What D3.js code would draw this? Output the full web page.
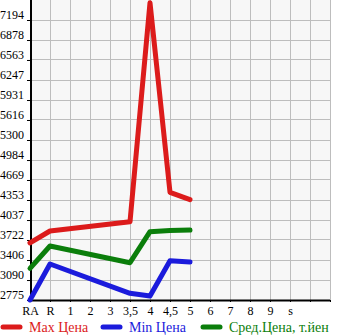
<!DOCTYPE html>
<html><head><meta charset="utf-8">
<script src="https://cdn.jsdelivr.net/npm/d3@7"></script>
<style>body{margin:0;background:#fff}svg{display:block}</style>
</head><body>
<script>
const categories = ["RA","R","1","2","3","3,5","4","4,5","5","6","7","8","9","s"];
const maxPrice = [3675, 3864, null, null, null, 4010, 7465, 4474, 4358, null, null, null, null, null];
const minPrice = [2775, 3343, null, null, null, 2881, 2838, 3395, 3375, null, null, null, null, null];
const avgPrice = [3275, 3627, null, null, null, 3364, 3853, 3870, 3880, null, null, null, null, null];
const yTicks = [2775, 3090, 3406, 3722, 4037, 4353, 4669, 4984, 5300, 5616, 5931, 6247, 6563, 6878, 7194];
const seriesNames = ["Max Цена", "Min Цена", "Сред.Цена, т.йен"];
const seriesColors = ["#dc1b1b", "#1b1bdc", "#0b7e0b"];

const W = 345, H = 335;
const svg = d3.select("body").append("svg").attr("width", W).attr("height", H);
const pLeft = 30, pRight = 330, pTop = 0, pBottom = 300;
const step = (yTicks[yTicks.length-1] - yTicks[0]) / (yTicks.length - 1);
const x = d3.scaleLinear().domain([0, 15]).range([pLeft, pRight]);
const y = d3.scaleLinear().domain([yTicks[0], yTicks[yTicks.length-1] + step]).range([pBottom, pTop]);
const font = "'Liberation Serif', 'DejaVu Serif', serif";

svg.append("rect").attr("x", pLeft).attr("y", pTop).attr("width", pRight-pLeft).attr("height", pBottom-pTop).attr("fill", "#f7f7f7");

// grid
const gx = d3.range(1, 16);
svg.append("g").selectAll("line").data(gx).join("line")
  .attr("x1", d => x(d)).attr("x2", d => x(d)).attr("y1", pTop).attr("y2", pBottom)
  .attr("stroke", "#bdbdbd").attr("stroke-width", 1).attr("shape-rendering", "crispEdges");
svg.append("g").selectAll("line").data(yTicks.slice(1)).join("line")
  .attr("x1", pLeft).attr("x2", pRight).attr("y1", d => y(d)).attr("y2", d => y(d))
  .attr("stroke", "#bdbdbd").attr("stroke-width", 1).attr("shape-rendering", "crispEdges");

// y axis
const yAxis = d3.axisLeft(y).tickValues(yTicks).tickSize(3).tickFormat(d3.format("d"));
const ya = svg.append("g").attr("transform", `translate(${pLeft},0)`).call(yAxis);
ya.select(".domain").remove();
ya.selectAll(".tick line").attr("stroke", "#000");
ya.selectAll(".tick text").attr("font-family", font).attr("font-size", 12).attr("fill", "#000")
  .attr("x", -6).attr("dy", "-0.1em");
svg.append("line").attr("x1", pLeft+1).attr("x2", pLeft+1).attr("y1", pTop).attr("y2", pBottom+1)
  .attr("stroke", "#000").attr("stroke-width", 2);

// x axis
const xAxis = d3.axisBottom(x).tickValues(d3.range(0, 16)).tickSize(2)
  .tickFormat(d => categories[d] || "");
const xa = svg.append("g").attr("transform", `translate(0,${pBottom})`).call(xAxis);
xa.select(".domain").remove();
xa.selectAll(".tick line").attr("stroke", "#000");
xa.selectAll(".tick text").attr("font-family", font).attr("font-size", 12).attr("fill", "#000").attr("dy", "0.8em");
svg.append("line").attr("x1", pLeft).attr("x2", pRight).attr("y1", pBottom+0.5).attr("y2", pBottom+0.5)
  .attr("stroke", "#000").attr("stroke-width", 2);

// lines
const line = d3.line().x(d => x(d.i)).y(d => y(d.v));
[maxPrice, minPrice, avgPrice].forEach((arr, k) => {
  const pts = arr.map((v, i) => ({i, v})).filter(d => d.v != null);
  svg.append("path").datum(pts).attr("d", line).attr("fill", "none")
    .attr("stroke", seriesColors[k]).attr("stroke-width", 5)
    .attr("stroke-linejoin", "round").attr("stroke-linecap", "round");
});

// legend
const legX = [0, 100, 200];
const lg = svg.append("g").attr("transform", "translate(0,327)");
seriesNames.forEach((n, k) => {
  lg.append("line").attr("x1", legX[k] + 3).attr("x2", legX[k] + 20).attr("y1", 0).attr("y2", 0)
    .attr("stroke", seriesColors[k]).attr("stroke-width", 5).attr("stroke-linecap", "round");
  lg.append("text").attr("x", legX[k] + 29).attr("y", 0).attr("dy", "0.35em")
    .attr("font-family", font).attr("font-size", 14).attr("fill", seriesColors[k]).text(n);
});
</script>
</body></html>
